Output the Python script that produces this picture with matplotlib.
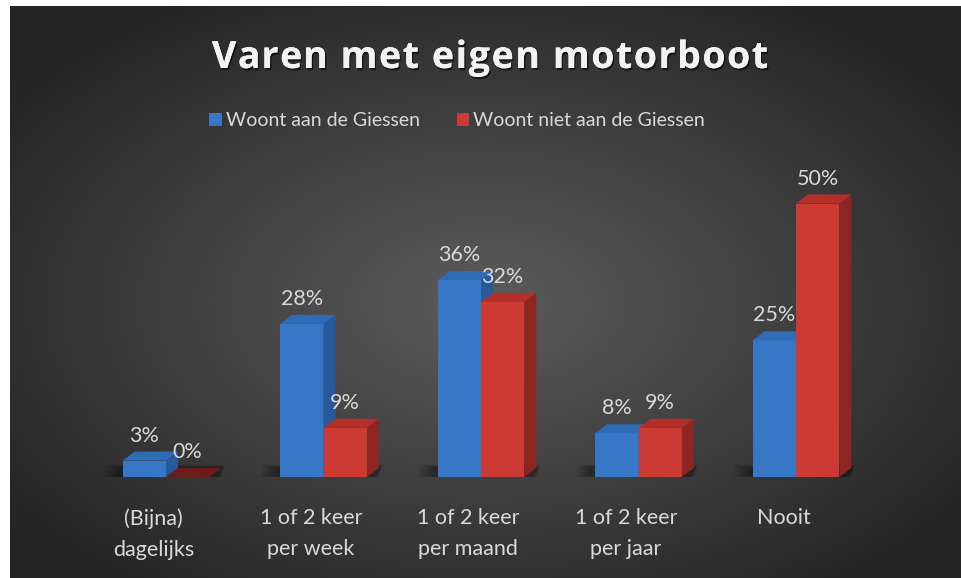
import numpy as np
import matplotlib
matplotlib.use('Agg')
import matplotlib.pyplot as plt
from matplotlib.patches import Polygon, Rectangle
from matplotlib.font_manager import FontProperties
import matplotlib.patheffects as pe

categories = ['(Bijna)\ndagelijks', '1 of 2 keer\nper week', '1 of 2 keer\nper maand',
              '1 of 2 keer\nper jaar', 'Nooit']
aan = [3, 28, 36, 8, 25]
niet_aan = [0, 9, 32, 9, 50]
series_names = ['Woont aan de Giessen', 'Woont niet aan de Giessen']
title = 'Varen met eigen motorboot'

W, H = 961, 578
fig = plt.figure(figsize=(W / 100, H / 100), dpi=100)
fig.patch.set_facecolor('white')

# dark panel with radial gradient
bg = fig.add_axes([10 / W, 0, 1 - 10 / W, 1 - 6 / H])
bg.set_axis_off()
yy, xx = np.mgrid[0:1:300j, 0:1:500j]
r = np.sqrt(((xx - 0.5) / 0.75) ** 2 + ((yy - 0.52) / 0.75) ** 2)
shade = np.clip(0.36 - 0.26 * r, 0.14, 0.36)
bg.imshow(np.dstack([shade] * 3), aspect='auto', extent=[0, 1, 0, 1], interpolation='bilinear')
bg.set_xlim(0, 1)
bg.set_ylim(0, 1)

txt = '#d9d9d9'
font = 'Lato'

# main axes: 0 % at y=477px, ~5.47 px per %
x = np.arange(len(categories))
left = 87.25
ax = fig.add_axes([left / W, 101 / H, 787.5 / W, 60 * 5.47 / H])
ax.set_xlim(-0.5, 4.5)
ax.set_ylim(0, 60)
ax.set_axis_off()
ax.patch.set_alpha(0)

w = 0.275
dx, dy = 0.076, 1.65

# soft floor shadow behind each group
for i in x:
    for k in range(6):
        g = 0.018 * k
        sh = Polygon([(i - w - 0.04 - g, -0.3 - g * 6), (i + w + dx - g * 0.5, -0.3 - g * 6),
                      (i + w + dx + 0.02, dy + 0.2 + g * 4), (i - w - 0.02 - g, dy + 0.2 + g * 4)],
                     closed=True, facecolor='black', edgecolor='none', alpha=0.07, zorder=1)
        ax.add_patch(sh)

styles = [
    dict(front='#3777c6', side='#275a9a', top='#2f6cb6'),
    dict(front='#cc3a34', side='#8f2522', top='#b52f2a'),
]

for s, (vals, st) in enumerate(zip([aan, niet_aan], styles)):
    xs = x - w / 2 + s * w
    z = 3 + s * 3
    ax.bar(xs, vals, w, color=st['front'], edgecolor='none', zorder=z)
    for xc, v in zip(xs, vals):
        x0, x1 = xc - w / 2, xc + w / 2
        side = Polygon([(x1, 0), (x1 + dx, dy), (x1 + dx, v + dy), (x1, v)],
                       closed=True, facecolor=st['side'], edgecolor='none', zorder=z)
        top = Polygon([(x0, v), (x1, v), (x1 + dx, v + dy), (x0 + dx, v + dy)],
                      closed=True, facecolor=st['top'] if v > 0 else '#6e1c1b',
                      edgecolor='none', zorder=z + 1)
        ax.add_patch(side)
        ax.add_patch(top)
        ax.text(xc, v + dy + 2.9, f'{v}%', ha='center', va='center', color=txt,
                fontsize=15.5, family=font, zorder=10)

for i, lab in zip(x, categories):
    ax.text(i - 0.08, -5.7, lab, ha='center', va='top', color=txt, fontsize=15.5,
            family=font, linespacing=1.7, clip_on=False)

# title with letter spacing, placed char by char
tp = FontProperties(family='Open Sans', weight='bold', size=27)
renderer = fig.canvas.get_renderer()
ref_w = renderer.get_text_width_height_descent('l', tp, ismath=False)[0]
spacing = 1.6
offs = []
for k in range(len(title)):
    wk = renderer.get_text_width_height_descent(title[:k] + 'l', tp, ismath=False)[0] - ref_w
    offs.append(max(wk, 0) + spacing * k)
total = renderer.get_text_width_height_descent(title, tp, ismath=False)[0] + spacing * (len(title) - 1)
x_start = 490 - total / 2
for ch, o in zip(title, offs):
    if ch == ' ':
        continue
    fig.text((x_start + o) / W, 1 - 68 / H, ch, ha='left', va='baseline',
             color='#f2f2f2', fontproperties=tp,
             path_effects=[pe.withSimplePatchShadow(offset=(1, -1.5), alpha=0.6, shadow_rgbFace='black'),
                           pe.Normal()])

handles = [Rectangle((0, 0), 1, 1, facecolor=st['front'], edgecolor='none') for st in styles]
leg = fig.legend(handles, series_names, loc='center', bbox_to_anchor=(457 / W, 1 - 121 / H),
                 ncol=2, frameon=False, handlelength=0.65, handleheight=0.65,
                 handletextpad=0.2, columnspacing=1.9,
                 prop={'family': font, 'size': 14})
for t in leg.get_texts():
    t.set_color(txt)

fig.savefig('out.png', dpi=100, facecolor=fig.get_facecolor())
